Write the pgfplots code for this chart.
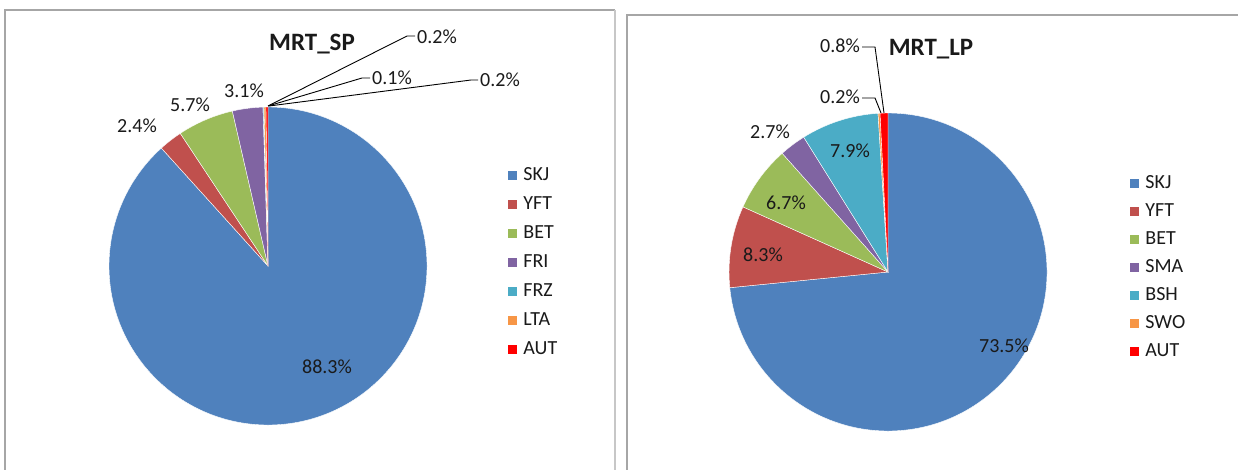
\documentclass[border=0pt]{standalone}
\usepackage{fontspec}
\setmainfont{Carlito}
\usepackage{pgfplots}
\usepackage{pgfplotstable}
\pgfplotsset{compat=1.18}

\definecolor{cSKJ}{HTML}{4F81BD}
\definecolor{cYFT}{HTML}{C0504D}
\definecolor{cBET}{HTML}{9BBB59}
\definecolor{cFRI}{HTML}{8064A2}
\definecolor{cFRZ}{HTML}{4BACC6}
\definecolor{cLTA}{HTML}{F79646}
\definecolor{cAUT}{HTML}{FF0000}
\definecolor{txt}{HTML}{1A1A1A}

\newcommand\lbl{\fontsize{20}{24}\selectfont}
\newcommand\ttl{\fontsize{25}{30}\selectfont\bfseries}

\pgfplotstableread{
name value color
SKJ 88.3 cSKJ
YFT 2.4 cYFT
BET 5.7 cBET
FRI 3.1 cFRI
FRZ 0.1 cFRZ
LTA 0.2 cLTA
AUT 0.2 cAUT
}\tblSP

\pgfplotstableread{
name value color
SKJ 73.5 cSKJ
YFT 8.3 cYFT
BET 6.7 cBET
SMA 2.7 cFRI
BSH 7.9 cFRZ
SWO 0.2 cLTA
AUT 0.8 cAUT
}\tblLP

% #1 table, #2 cx, #3 cy (axis units), #4 radius (pt = px)
\newcommand\drawpie[4]{%
  \pgfplotstablegetrowsof{#1}%
  \pgfmathtruncatemacro\pieN{\pgfplotsretval-1}%
  \def\pietotal{0}%
  \pgfplotsforeachungrouped \i in {0,...,\pieN}{%
    \pgfplotstablegetelem{\i}{value}\of{#1}%
    \pgfmathsetmacro\pietotal{\pietotal+\pgfplotsretval}%
  }%
  \def\piecum{0}%
  \pgfplotsforeachungrouped \i in {0,...,\pieN}{%
    \pgfplotstablegetelem{\i}{value}\of{#1}\let\pieval\pgfplotsretval
    \pgfplotstablegetelem{\i}{color}\of{#1}\let\piecol\pgfplotsretval
    \pgfmathsetmacro\piea{90-(\piecum/\pietotal)*360}%
    \pgfmathsetmacro\pieb{90-((\piecum+\pieval)/\pietotal)*360}%
    \edef\pietmp{\noexpand\fill[fill=\piecol, draw=white, line width=0.4pt] (axis cs:#2,#3) -- ++(\piea:#4pt) arc[start angle=\piea, end angle=\pieb, radius=#4pt] -- cycle;}%
    \pietmp
    \pgfmathsetmacro\piecum{\piecum+\pieval}%
  }%
}

\pgfplotsset{
  panel/.style={
    at={(0,0)}, anchor=south west,
    scale only axis, width=1238pt, height=469pt,
    xmin=0, xmax=1238, ymin=0, ymax=469, y dir=reverse,
    hide axis, clip=true,
    legend image code/.code={\fill[##1, draw=none] (0pt,-4.5pt) rectangle (9pt,4.5pt); \path (14pt,0pt);},
    legend cell align=left,
  },
}

\begin{document}
\begin{tikzpicture}
% ---------------- left panel: MRT_SP ----------------
\begin{axis}[panel,
  legend style={at={(axis cs:505,163)}, anchor=north west, draw=none, fill=none,
    font=\lbl, text=txt, row sep=8pt, nodes={inner sep=1pt, text height=14pt, text depth=5pt}},
]
\draw[color=black!35, line width=1.2pt] (axis cs:5,600) -- (axis cs:5,10) -- (axis cs:615,10);
\draw[color=black!22, line width=2pt] (axis cs:615,10) -- (axis cs:615,600);
\drawpie{\tblSP}{268}{266}{159}
\addlegendimage{fill=cSKJ}\addlegendentry{SKJ}
\addlegendimage{fill=cYFT}\addlegendentry{YFT}
\addlegendimage{fill=cBET}\addlegendentry{BET}
\addlegendimage{fill=cFRI}\addlegendentry{FRI}
\addlegendimage{fill=cFRZ}\addlegendentry{FRZ}
\addlegendimage{fill=cLTA}\addlegendentry{LTA}
\addlegendimage{fill=cAUT}\addlegendentry{AUT}
% leader lines
\draw[black, line width=0.9pt] (axis cs:268,106) -- (axis cs:407,36) -- (axis cs:415,36);
\draw[black, line width=0.9pt] (axis cs:268,106) -- (axis cs:362,78) -- (axis cs:370,78);
\draw[black, line width=0.9pt] (axis cs:269,106) -- (axis cs:471,80) -- (axis cs:478,80);
% labels
\node[font=\ttl, text=txt, inner sep=0pt] at (axis cs:312,44) {MRT\_SP};
\node[font=\lbl, text=txt, inner sep=0pt, anchor=west] at (axis cs:417,37) {0.2\%};
\node[font=\lbl, text=txt, inner sep=0pt, anchor=west] at (axis cs:372,78) {0.1\%};
\node[font=\lbl, text=txt, inner sep=0pt, anchor=west] at (axis cs:480,80) {0.2\%};
\node[font=\lbl, text=txt, inner sep=0pt] at (axis cs:244,91) {3.1\%};
\node[font=\lbl, text=txt, inner sep=0pt] at (axis cs:190,105) {5.7\%};
\node[font=\lbl, text=txt, inner sep=0pt] at (axis cs:137,126) {2.4\%};
\node[font=\lbl, text=txt, inner sep=0pt] at (axis cs:327,367) {88.3\%};
\end{axis}
% ---------------- right panel: MRT_LP ----------------
\begin{axis}[panel,
  legend style={at={(axis cs:1127,171)}, anchor=north west, draw=none, fill=none,
    font=\lbl, text=txt, row sep=7pt, nodes={inner sep=1pt, text height=14pt, text depth=5pt}},
]
\draw[color=black!35, line width=1.2pt] (axis cs:627,600) -- (axis cs:627,15) -- (axis cs:1300,15);
\drawpie{\tblLP}{888}{272}{159}
\addlegendimage{fill=cSKJ}\addlegendentry{SKJ}
\addlegendimage{fill=cYFT}\addlegendentry{YFT}
\addlegendimage{fill=cBET}\addlegendentry{BET}
\addlegendimage{fill=cFRI}\addlegendentry{SMA}
\addlegendimage{fill=cFRZ}\addlegendentry{BSH}
\addlegendimage{fill=cLTA}\addlegendentry{SWO}
\addlegendimage{fill=cAUT}\addlegendentry{AUT}
% leader lines
\draw[black, line width=0.9pt] (axis cs:862,47) -- (axis cs:875,47) -- (axis cs:884,113);
\draw[black, line width=0.9pt] (axis cs:862,98) -- (axis cs:875,98) -- (axis cs:881,113);
% labels
\node[font=\ttl, text=txt, inner sep=0pt] at (axis cs:931,49) {MRT\_LP};
\node[font=\lbl, text=txt, inner sep=0pt, anchor=east] at (axis cs:860,46) {0.8\%};
\node[font=\lbl, text=txt, inner sep=0pt, anchor=east] at (axis cs:860,97) {0.2\%};
\node[font=\lbl, text=txt, inner sep=0pt] at (axis cs:770,132) {2.7\%};
\node[font=\lbl, text=txt, inner sep=0pt] at (axis cs:850,151) {7.9\%};
\node[font=\lbl, text=txt, inner sep=0pt] at (axis cs:786,203) {6.7\%};
\node[font=\lbl, text=txt, inner sep=0pt] at (axis cs:763,255) {8.3\%};
\node[font=\lbl, text=txt, inner sep=0pt] at (axis cs:1004,346) {73.5\%};
\end{axis}
\pgfresetboundingbox
\path[use as bounding box] (0,0) rectangle (1238pt,469pt);
\end{tikzpicture}
\end{document}
